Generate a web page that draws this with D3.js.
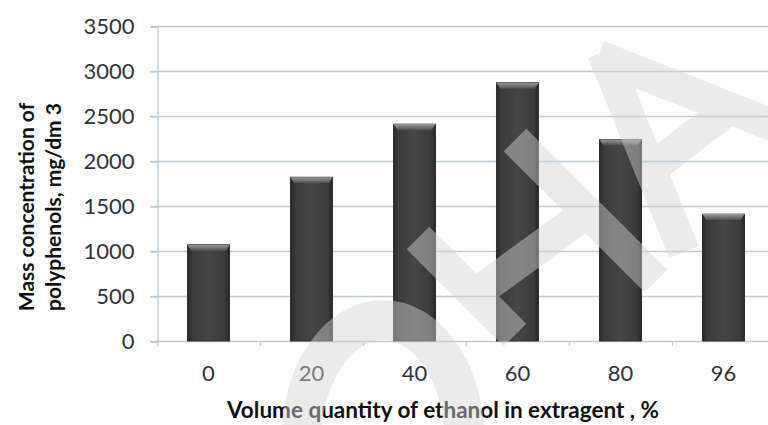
<!DOCTYPE html>
<html>
<head>
<meta charset="utf-8">
<script src="https://cdn.jsdelivr.net/npm/d3@7"></script>
<style>
  body { margin: 0; background: #fff; }
  svg { display: block; }
  text { font-family: Lato, "Open Sans", sans-serif; }
</style>
</head>
<body>
<svg width="768" height="425"></svg>
<script>
var svg = d3.select("svg");

// data
var categories = ["0", "20", "40", "60", "80", "96"];
var values = [1070, 1820, 2410, 2870, 2240, 1410];
var yTicks = [0, 500, 1000, 1500, 2000, 2500, 3000, 3500];

var yTitleLines = ["Mass concentration of", "polyphenols, mg/dm 3"];
var xTitle = "Volume quantity of ethanol in extragent , %";

var plotLeft = 157, plotRight = 775, plotTop = 26, plotBottom = 341;
var gridColor = "#b9ccd8";
var labelColor = "#2f3338";

var x = d3.scaleBand()
  .domain(categories)
  .range([plotLeft, plotRight])
  .paddingInner(0.59)
  .paddingOuter(0.295);

var y = d3.scaleLinear()
  .domain([0, 3500])
  .range([plotBottom, plotTop]);

// gradients for the bars
var defs = svg.append("defs");
var side = defs.append("linearGradient").attr("id", "barSide")
  .attr("x1", "0").attr("x2", "1").attr("y1", "0").attr("y2", "0");
[["0%", "#262626"], ["12%", "#3b3b3b"], ["50%", "#464646"], ["88%", "#3b3b3b"], ["100%", "#262626"]]
  .forEach(function(s) { side.append("stop").attr("offset", s[0]).attr("stop-color", s[1]); });
var cap = defs.append("linearGradient").attr("id", "barCap")
  .attr("x1", "0").attr("x2", "0").attr("y1", "0").attr("y2", "1");
[["0%", "#9a9a9a"], ["100%", "#4e4e4e"]]
  .forEach(function(s) { cap.append("stop").attr("offset", s[0]).attr("stop-color", s[1]); });

// gridlines (they run a bit past the axis, like ticks)
svg.append("g")
  .selectAll("line")
  .data(yTicks.slice(1))
  .join("line")
  .attr("x1", plotLeft - 7)
  .attr("x2", 768)
  .attr("y1", function(d) { return Math.round(y(d)) + 0.5; })
  .attr("y2", function(d) { return Math.round(y(d)) + 0.5; })
  .attr("stroke", gridColor)
  .attr("stroke-width", 1.3);

// y axis
var yAxis = svg.append("g")
  .attr("transform", "translate(" + (plotLeft + 0.5) + ",0.5)")
  .call(d3.axisLeft(y).tickValues(yTicks).tickFormat(d3.format("d")).tickSize(7).tickPadding(16));
yAxis.select(".domain").attr("stroke", gridColor).attr("stroke-width", 1.3);
yAxis.selectAll(".tick line").attr("stroke", gridColor).attr("stroke-width", 1.3);
yAxis.selectAll(".tick text")
  .attr("fill", labelColor)
  .attr("font-size", 22)
  .style("font-family", "Lato, sans-serif");

// x axis: ticks sit between the categories
var bounds = categories.map(function(c) { return x(c) - x.step() * x.paddingInner() / 2; });
bounds.push(plotRight);
svg.append("line")
  .attr("x1", plotLeft - 7).attr("x2", 768)
  .attr("y1", plotBottom + 0.5).attr("y2", plotBottom + 0.5)
  .attr("stroke", gridColor).attr("stroke-width", 1.3);
svg.append("g")
  .selectAll("line")
  .data(bounds)
  .join("line")
  .attr("x1", function(d) { return Math.round(d) + 0.5; })
  .attr("x2", function(d) { return Math.round(d) + 0.5; })
  .attr("y1", plotBottom)
  .attr("y2", plotBottom + 5)
  .attr("stroke", gridColor)
  .attr("stroke-width", 1.3);

svg.append("g")
  .selectAll("text")
  .data(categories)
  .join("text")
  .attr("x", function(d) { return x(d) + x.bandwidth() / 2; })
  .attr("y", plotBottom + 40)
  .attr("text-anchor", "middle")
  .attr("fill", labelColor)
  .attr("font-size", 22)
  .text(function(d) { return d; });

// bars
var bars = svg.append("g")
  .selectAll("g")
  .data(values)
  .join("g");

bars.append("rect")
  .attr("x", function(d, i) { return x(categories[i]); })
  .attr("y", function(d) { return y(d); })
  .attr("width", x.bandwidth())
  .attr("height", function(d) { return plotBottom - y(d); })
  .attr("fill", "url(#barSide)")
  .attr("stroke", "#1e1e1e")
  .attr("stroke-width", 0.8);

bars.append("path")
  .attr("d", function(d, i) {
    var x0 = x(categories[i]), x1 = x0 + x.bandwidth(), t = y(d);
    return "M" + x0 + "," + t + "L" + x1 + "," + t +
      "L" + (x1 - 4) + "," + (t + 6) + "L" + (x0 + 4) + "," + (t + 6) + "Z";
  })
  .attr("fill", "url(#barCap)");

// axis titles
svg.append("text")
  .attr("transform", "translate(443,418)")
  .attr("text-anchor", "middle")
  .attr("font-size", 22.5)
  .attr("font-weight", "bold")
  .attr("fill", "#111")
  .text(xTitle);

svg.append("g")
  .attr("transform", "translate(34,207) rotate(-90)")
  .selectAll("text")
  .data(yTitleLines)
  .join("text")
  .attr("x", 0)
  .attr("y", function(d, i) { return i * 27; })
  .attr("text-anchor", "middle")
  .attr("font-size", 21)
  .attr("font-weight", "bold")
  .attr("fill", "#111")
  .text(function(d) { return d; });

// faint "OHA" watermark over everything
var wm = svg.append("g")
  .attr("opacity", 0.45)
  .attr("fill", "none")
  .attr("stroke", "#d4d4d4");
wm.append("ellipse")
  .attr("cx", 383).attr("cy", 442)
  .attr("rx", 82).attr("ry", 122)
  .attr("stroke-width", 40);
var strokes = [
  [[418, 238], [515, 335]],
  [[515, 140], [656, 281]],
  [[470, 298], [585, 214]],
  [[603, 52], [684, 252]],
  [[598, 56], [800, 136]],
  [[652, 168], [730, 108]]
];
wm.selectAll("path")
  .data(strokes)
  .join("path")
  .attr("d", d3.line())
  .attr("stroke-width", 32);
</script>
</body>
</html>
